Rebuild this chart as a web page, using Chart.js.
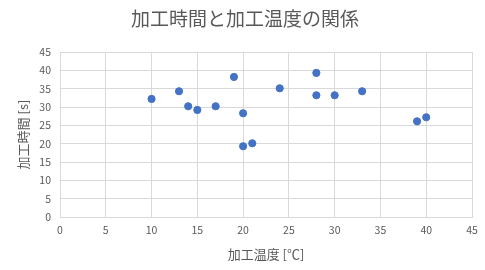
<!DOCTYPE html>
<html>
<head>
<meta charset="utf-8">
<script src="https://cdn.jsdelivr.net/npm/chart.js@4"></script>
<style>
  html, body { margin: 0; padding: 0; background: #fff; }
  #wrap { width: 485px; height: 270px; }
</style>
</head>
<body>
<div id="wrap"><canvas id="chart" width="485" height="270"></canvas></div>
<script>
// Data
const temps = [10, 13, 14, 15, 17, 19, 20, 20, 21, 24, 28, 28, 30, 33, 39, 40]; // 加工温度 [℃]
const times = [32.2, 34.3, 30.2, 29.2, 30.2, 38.2, 28.3, 19.3, 20.1, 35.1, 39.3, 33.2, 33.2, 34.3, 26.1, 27.2]; // 加工時間 [s]
const axisMin = 0;
const axisMax = 45;
const axisStep = 5;

const font = '"Noto Sans CJK JP", "Noto Sans", sans-serif';
const grey = '#595959';
const gridColor = '#d9d9d9';

const points = temps.map((t, i) => ({ x: t, y: times[i] }));

// centre the title over the whole canvas, not the padded box
const titleShift = {
    id: 'titleShift',
    afterLayout(chart) {
        const t = chart.titleBlock;
        if (t) { t.left = 5; t.right = chart.width; t.width = t.right - t.left; }
    }
};

const ctx = document.getElementById('chart').getContext('2d');
const chart = new Chart(ctx, {
    type: 'scatter',
    data: {
        datasets: [
            { label: '加工時間', data: points, backgroundColor: '#4472C4', borderColor: '#4472C4', pointRadius: 3.6, pointHoverRadius: 3.6 }
        ]
    },
    options: {
        responsive: false,
        animation: false,
        devicePixelRatio: 1,
        layout: { padding: { left: 0, right: 13, top: 0, bottom: 0 } },
        plugins: {
            legend: { display: false },
            tooltip: { enabled: false },
            title: {
                display: true,
                text: '加工時間と加工温度の関係',
                color: grey,
                font: { family: font, size: 19, weight: 'normal' },
                padding: { top: 7, bottom: 22.2 }
            }
        },
        scales: {
            x: {
                type: 'linear',
                min: axisMin, max: axisMax,
                ticks: { stepSize: axisStep, color: grey, font: { family: font, size: 10.5 }, padding: 7, maxRotation: 0 },
                grid: { color: gridColor, drawTicks: false },
                border: { color: gridColor },
                title: { display: true, text: '加工温度 [℃]', color: grey, font: { family: font, size: 13 }, padding: { top: 0, bottom: 8 } },
                afterFit: (scale) => { scale.height = 53; }
            },
            y: {
                type: 'linear',
                min: axisMin, max: axisMax,
                ticks: { stepSize: axisStep, color: grey, font: { family: font, size: 10.5 }, padding: 9 },
                grid: { color: gridColor, drawTicks: false },
                border: { color: gridColor },
                title: { display: true, text: '加工時間 [s]', color: grey, font: { family: font, size: 13 }, padding: { top: 15, bottom: 0 } },
                afterFit: (scale) => { scale.width = 60; }
            }
        }
    },
    plugins: [titleShift]
});
</script>
</body>
</html>
